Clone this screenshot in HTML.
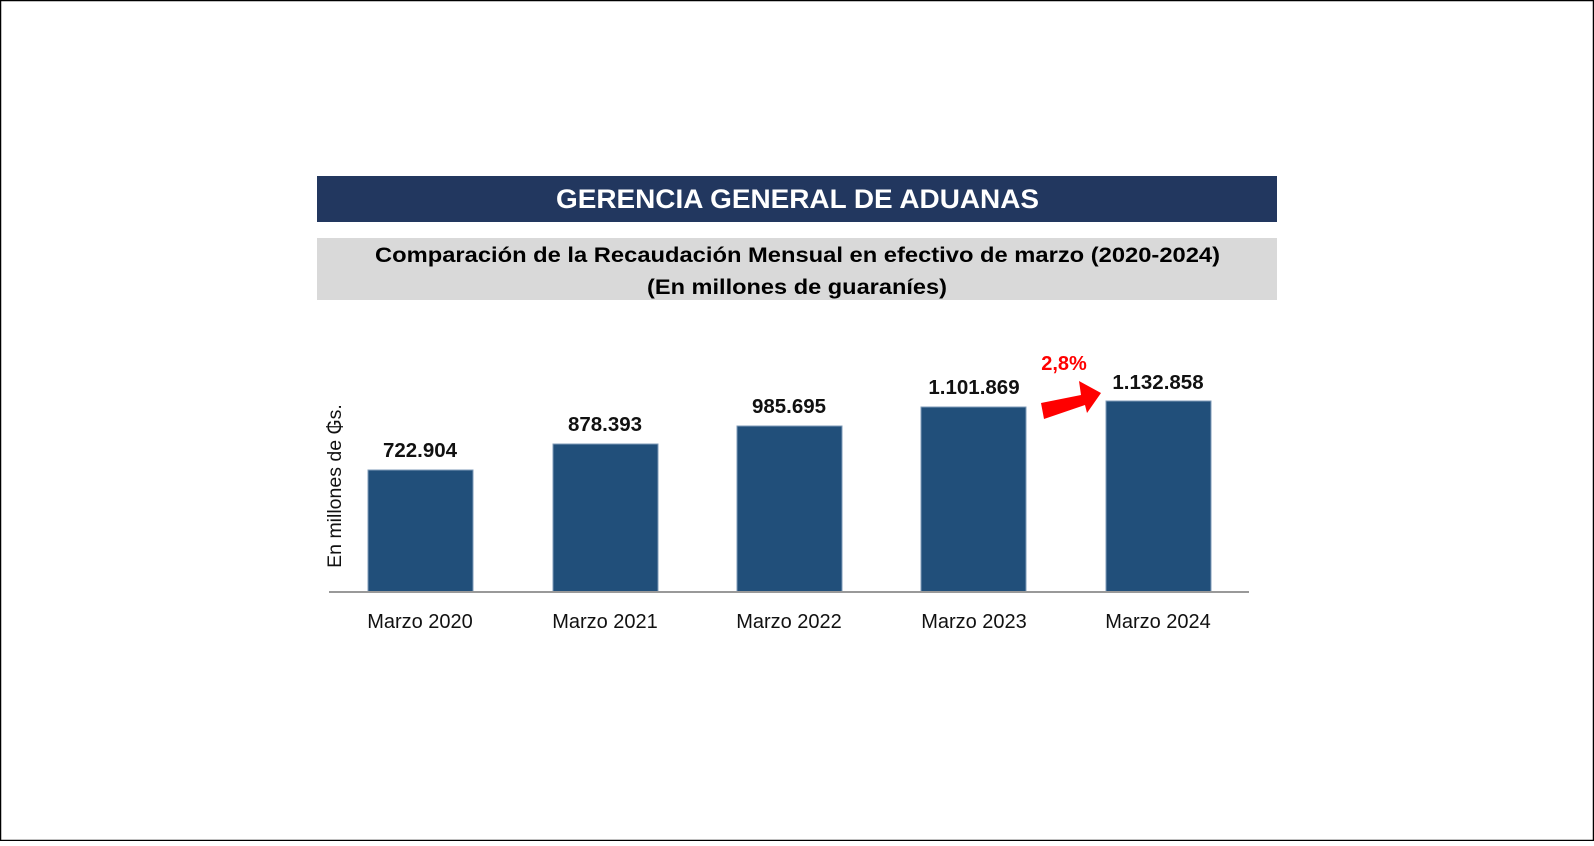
<!DOCTYPE html>
<html><head><meta charset="utf-8"><style>
html,body{margin:0;padding:0;background:#fff}
body{width:1594px;height:841px;overflow:hidden}
</style></head><body>
<svg width="1594" height="841" xmlns="http://www.w3.org/2000/svg" font-family="Liberation Sans, Arial, sans-serif">
<rect x="0.5" y="0.5" width="1593" height="840" fill="#fff" stroke="#000" stroke-width="1.5"/>
<rect x="317" y="176" width="960" height="46" fill="#22375f"/>
<text x="556" y="208" textLength="483" lengthAdjust="spacingAndGlyphs" font-size="27" font-weight="bold" fill="#fff">GERENCIA GENERAL DE ADUANAS</text>
<rect x="317" y="238" width="960" height="62" fill="#d9d9d9"/>
<text x="375" y="262" textLength="845" lengthAdjust="spacingAndGlyphs" font-size="21" font-weight="bold" fill="#000">Comparación de la Recaudación Mensual en efectivo de marzo (2020-2024)</text>
<text x="647" y="294" textLength="300" lengthAdjust="spacingAndGlyphs" font-size="21" font-weight="bold" fill="#000">(En millones de guaraníes)</text>
<g fill="#214f7a" stroke="#7f9bb8" stroke-width="1">
<rect x="368" y="470" width="105" height="122"/>
<rect x="553" y="444" width="105" height="148"/>
<rect x="737" y="426" width="105" height="166"/>
<rect x="921" y="407" width="105" height="185"/>
<rect x="1106" y="401" width="105" height="191"/>
</g>
<line x1="329" y1="592" x2="1249" y2="592" stroke="#999" stroke-width="2"/>
<g font-size="20.5" font-weight="bold" text-anchor="middle" fill="#111">
<text x="420" y="457">722.904</text>
<text x="605" y="431">878.393</text>
<text x="789" y="413">985.695</text>
<text x="974" y="394">1.101.869</text>
<text x="1158" y="389">1.132.858</text>
</g>
<g font-size="20" text-anchor="middle" fill="#111">
<text x="420" y="628">Marzo 2020</text>
<text x="605" y="628">Marzo 2021</text>
<text x="789" y="628">Marzo 2022</text>
<text x="974" y="628">Marzo 2023</text>
<text x="1158" y="628">Marzo 2024</text>
</g>
<text transform="translate(341,486) rotate(-90)" text-anchor="middle" font-size="19.5" fill="#111">En millones de ₲s.</text>
<polygon points="1041,403 1081,395 1079,381 1101,393 1087,413 1085,405 1044,419" fill="#f00"/>
<text x="1064" y="370" text-anchor="middle" font-size="20" font-weight="bold" fill="#f00">2,8%</text>
</svg>
</body></html>
